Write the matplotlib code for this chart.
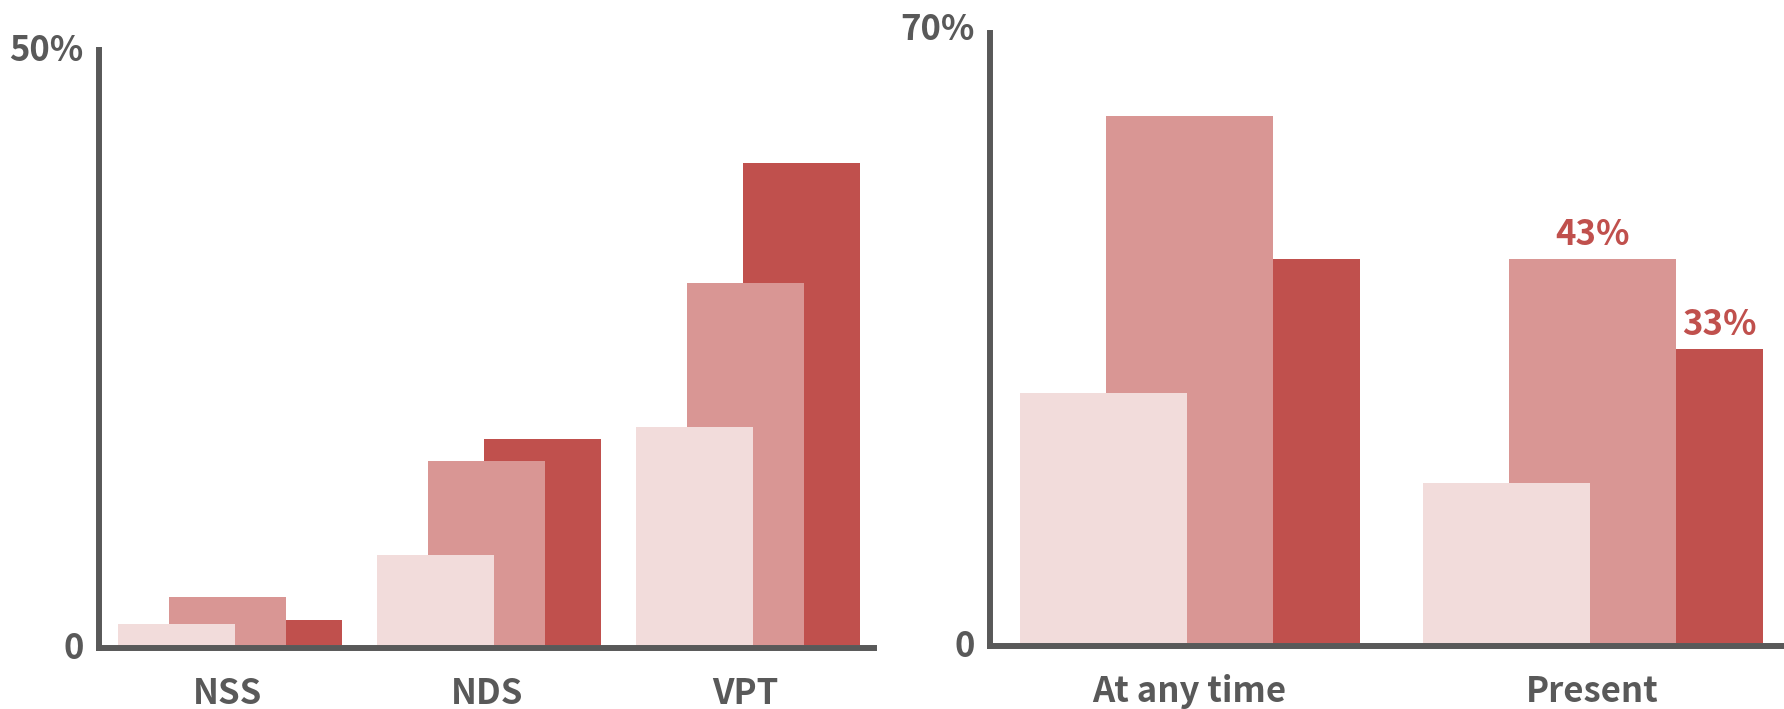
import matplotlib
matplotlib.use('Agg')
import matplotlib.pyplot as plt
import matplotlib.transforms as mtransforms
import numpy as np

# ---- data ----------------------------------------------------------
left_cats = ['NSS', 'NDS', 'VPT']
left_light = [1.8, 7.6, 18.3]
left_mid = [4.0, 15.5, 30.4]
left_dark = [2.1, 17.3, 40.5]

right_cats = ['At any time', 'Present']
right_light = [28, 18]
right_mid = [59, 43]
right_dark = [43, 33]

left_ticks = ['0', '50%']
right_ticks = ['0', '70%']

# ---- style ---------------------------------------------------------
C_LIGHT = '#F2DCDB'
C_MID = '#D99694'
C_DARK = '#C0504D'
GREY = '#595959'

plt.rcParams['font.family'] = ['Noto Sans CJK KR', 'DejaVu Sans']

W, H = 1784, 709
fig = plt.figure(figsize=(W / 100, H / 100), dpi=100)


def px_axes(x0, y0, x1, y1):
    # axes rectangle from a pixel box (top-left origin)
    return fig.add_axes([x0 / W, 1 - y1 / H, (x1 - x0) / W, (y1 - y0) / H])


def draw_group(ax, cats, light, mid, dark, w, off_l, d_lo, d_hi,
               ylim, xlim, ticks, top_shift):
    x = np.arange(len(cats))
    ax.bar(x + d_lo, dark, d_hi - d_lo, align='edge', color=C_DARK, zorder=1)
    ax.bar(x, mid, w, color=C_MID, zorder=2)
    ax.bar(x - off_l, light, w, color=C_LIGHT, zorder=3)
    ax.set_xlim(*xlim)
    ax.set_ylim(*ylim)
    for s in ('top', 'right'):
        ax.spines[s].set_visible(False)
    for s in ('left', 'bottom'):
        ax.spines[s].set_color(GREY)
        ax.spines[s].set_linewidth(4.3)
        ax.spines[s].set_zorder(5)
    ax.set_xticks(x)
    ax.set_xticklabels(cats, fontsize=25, color=GREY, fontweight='bold')
    ax.set_yticks([0, ylim[1]])
    ax.set_yticklabels(ticks, fontsize=25, color=GREY, fontweight='bold')
    ax.tick_params(axis='y', length=0, pad=11)
    ax.tick_params(axis='x', length=0, pad=20)
    # lift the top percentage label a little above the axis end
    top = ax.get_yticklabels()[-1]
    top.set_transform(top.get_transform() + mtransforms.ScaledTranslation(
        0, top_shift / 100, fig.dpi_scale_trans))
    ax.patch.set_visible(False)
    return x


ax1 = px_axes(99, 50, 874, 648)
draw_group(ax1, left_cats, left_light, left_mid, left_dark,
           0.449, 0.197, 0.216 - 0.2245, 0.216 + 0.2245,
           (-0.25, 50), (-0.4965, 2.496), left_ticks, 3)

# right panel: visible part of the dark bar runs from the middle bar's
# edge to D_HI; its hidden part tucks under the middle bar
W2, D_HI = 0.414, 0.424
ax2 = px_axes(990, 33, 1784, 646)
x2 = draw_group(ax2, right_cats, right_light, right_mid, right_dark,
                W2, 0.213, 0.06, D_HI,
                (-0.28, 68.3), (-0.495, 1.475), right_ticks, 7)

# value labels on the "Present" group
lbl = [(x2[1], right_mid[1]), (x2[1] + (W2 / 2 + D_HI) / 2, right_dark[1])]
for xv, yv in lbl:
    ax2.annotate(f'{yv}%', (xv, yv), xytext=(0, 10),
                 textcoords='offset points', ha='center', va='baseline',
                 fontsize=25, color=C_DARK, fontweight='bold')

fig.savefig('out.png', dpi=100)
